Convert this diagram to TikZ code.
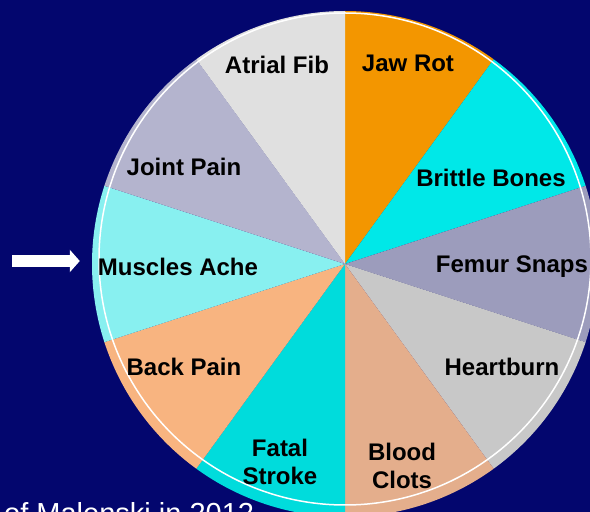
\documentclass[tikz,border=0pt]{standalone}
\usepackage{fontspec}
\setmainfont{Liberation Sans}
\usetikzlibrary{arrows.meta,positioning}
\definecolor{navy}{HTML}{03066E}
\definecolor{jawcol}{HTML}{F39600}
\definecolor{brittlecol}{HTML}{00E8E8}
\definecolor{femurcol}{HTML}{9C9CBC}
\definecolor{heartcol}{HTML}{C8C8C8}
\definecolor{bloodcol}{HTML}{E4AE8C}
\definecolor{strokecol}{HTML}{00DCDC}
\definecolor{backcol}{HTML}{F8B480}
\definecolor{achecol}{HTML}{88F0F0}
\definecolor{jointcol}{HTML}{B4B4CE}
\definecolor{atrialcol}{HTML}{E0E0E0}

\begin{document}
\begin{tikzpicture}[x=1pt, y=1pt,
    lbl/.style={font=\fontsize{24}{28}\selectfont\bfseries, text=black, align=center, inner sep=0pt},
    arr/.style={-{Triangle[length=10pt, width=22pt]}, line width=12pt, white},
]
\clip (0,0) rectangle (590,512);
\fill[navy] (0,0) rectangle (590,512);
\coordinate (c) at (345,248);

% ten slices, clockwise from the top
\foreach \col [count=\i] in {jawcol,brittlecol,femurcol,heartcol,bloodcol,strokecol,backcol,achecol,jointcol,atrialcol} {
  \pgfmathsetmacro{\a}{90-36*(\i-1)}
  \fill[\col] (c) -- ++(\a:253) arc[start angle=\a, end angle=\a-36, radius=253] -- cycle;
}
\draw[white, line width=1.5pt] (345,253) circle[radius=246];

\node[lbl] (jaw) at (408,449) {Jaw Rot};
\node[lbl] (atrial) at (277,447) {Atrial Fib};
\node[lbl] (joint) at (184,345) {Joint Pain};
\node[lbl] (brittle) at (491,334) {Brittle Bones};
\node[lbl] (ache) at (178,245) {Muscles Ache};
\node[lbl] (femur) at (512,245) {Femur Snaps};
\node[lbl] (back) at (184,145) {Back Pain};
\node[lbl] (heart) at (502,145) {Heartburn};
\node[lbl] (stroke) at (280,50) {Fatal\\Stroke};
\node[lbl] (clots) at (402,46) {Blood\\Clots};

\coordinate (tail) at (12,251);
\draw[arr] (tail) -- (tail -| ache.west) [shorten >=18pt];

\node[font=\fontsize{29}{32}\selectfont, text=white, anchor=base west, inner sep=0pt] (cite) at (4,-12) {of Malenski in 2012};
\end{tikzpicture}
\end{document}
